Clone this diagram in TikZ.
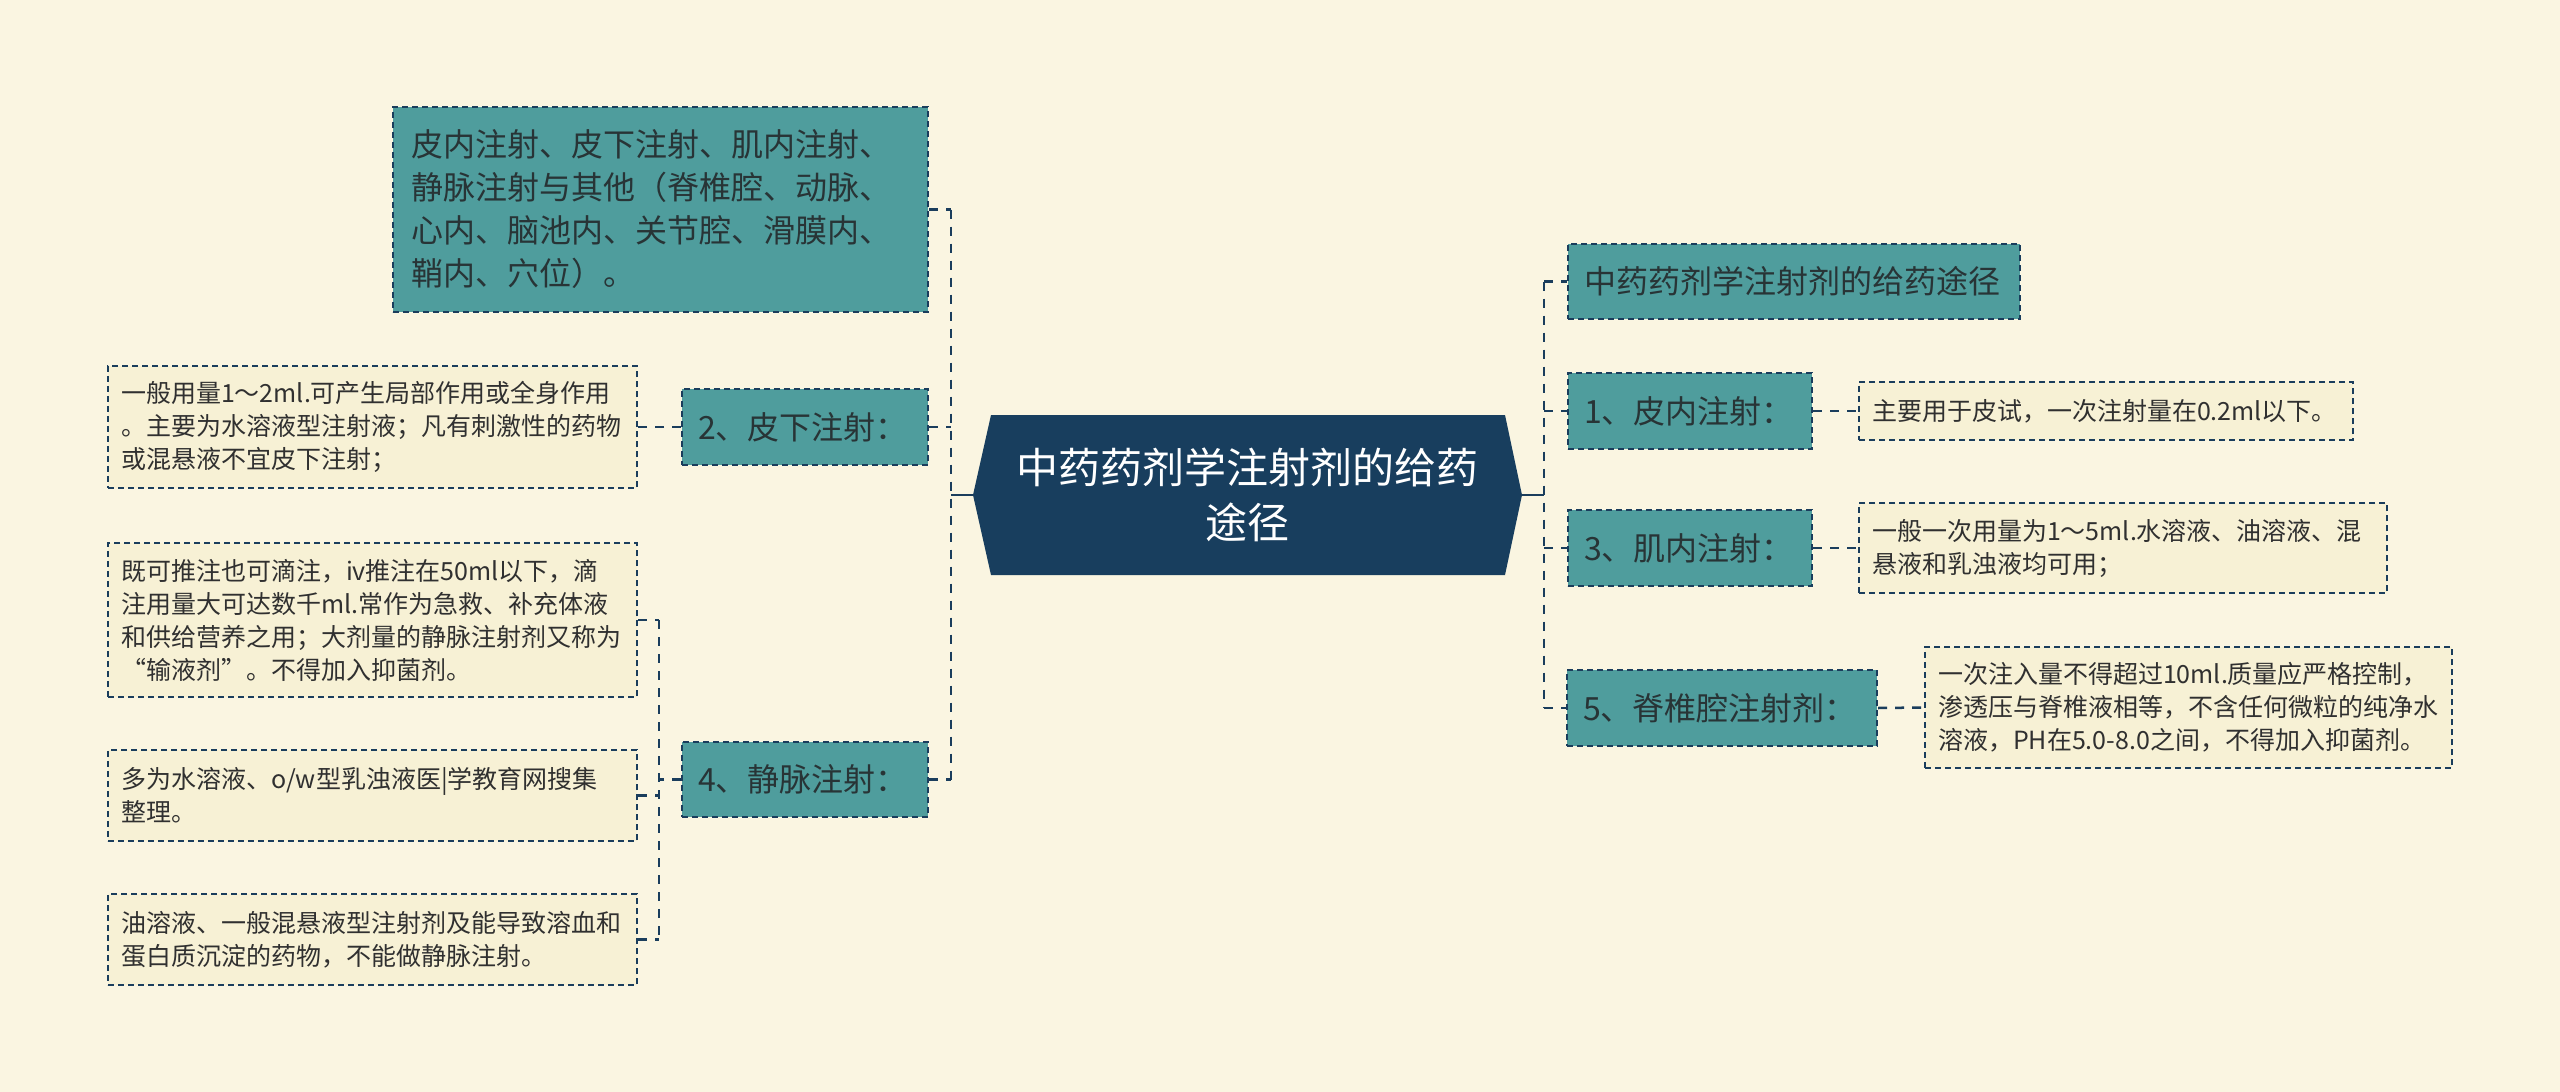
\documentclass[tikz,border=0pt]{standalone}
\usepackage{fontspec}
\setmainfont{Noto Sans CJK SC}
\definecolor{bgc}{RGB}{250,245,225}
\definecolor{navy}{RGB}{26,61,92}
\definecolor{tealc}{RGB}{79,157,157}
\definecolor{leafc}{RGB}{247,241,213}
\definecolor{ctrc}{RGB}{24,62,94}
\definecolor{tealtxt}{RGB}{40,52,54}
\definecolor{leaftxt}{RGB}{48,48,48}
\begin{document}
\begin{tikzpicture}[x=1pt,y=-1pt,
  tbox/.style={draw=navy,fill=tealc,line width=2pt,dash pattern=on 6pt off 4pt,
    text=tealtxt,font=\fontsize{32}{43}\selectfont,align=left,
    inner xsep=16pt,inner ysep=0pt,anchor=center},
  lbox/.style={draw=navy,fill=leafc,line width=2pt,dash pattern=on 6pt off 4pt,
    text=leaftxt,font=\fontsize{25}{33}\selectfont,align=left,
    inner xsep=13pt,inner ysep=0pt,anchor=center},
  conn/.style={draw=navy,line width=2.5pt,dash pattern=on 9pt off 8pt},
  sconn/.style={draw=navy,line width=2.5pt}]
\fill[bgc] (0,0) rectangle (2560,1092);
\useasboundingbox (0,0) rectangle (2560,1092);

% centre hexagon
\coordinate (cl) at (973,495);
\coordinate (cr) at (1522,495);
\fill[ctrc] (cl) -- (991,415) -- (1505,415) -- (cr) -- (1505,575) -- (991,575) -- cycle;
\node[text=white,font=\fontsize{42}{55}\selectfont,align=center] (ctr) at (1247.5,495)
  {中药药剂学注射剂的给药\\途径};

% left branch
\node[tbox,minimum width=535pt,minimum height=205pt,text width=499pt] (A) at (660.5,209.5)
  {皮内注射、皮下注射、肌内注射、\\静脉注射与其他（脊椎腔、动脉、\\心内、脑池内、关节腔、滑膜内、\\鞘内、穴位）。};
\node[tbox,minimum width=246pt,minimum height=76pt,text width=214pt] (N2) at (805,427) {2、皮下注射：};
\node[tbox,minimum width=246pt,minimum height=75pt,text width=214pt] (N4) at (805,779.5) {4、静脉注射：};
\node[lbox,minimum width=529pt,minimum height=122pt,text width=503pt] (L2) at (372.5,427)
  {一般用量1～2ml.可产生局部作用或全身作用\\。主要为水溶液型注射液；凡有刺激性的药物\\或混悬液不宜皮下注射；};
\node[lbox,minimum width=529pt,minimum height=154pt,text width=503pt] (L4a) at (372.5,620)
  {既可推注也可滴注，iv推注在50ml以下，滴\\注用量大可达数千ml.常作为急救、补充体液\\和供给营养之用；大剂量的静脉注射剂又称为\\“输液剂”。不得加入抑菌剂。};
\node[lbox,minimum width=529pt,minimum height=91pt,text width=503pt] (L4b) at (372.5,795.5)
  {多为水溶液、o/w型乳浊液医|学教育网搜集\\整理。};
\node[lbox,minimum width=529pt,minimum height=91pt,text width=503pt] (L4c) at (372.5,939.5)
  {油溶液、一般混悬液型注射剂及能导致溶血和\\蛋白质沉淀的药物，不能做静脉注射。};

% right branch
\node[tbox,minimum width=452pt,minimum height=75pt,text width=420pt] (T) at (1794,281.5) {中药药剂学注射剂的给药途径};
\node[tbox,minimum width=244pt,minimum height=76pt,text width=212pt] (N1) at (1690,411) {1、皮内注射：};
\node[tbox,minimum width=244pt,minimum height=76pt,text width=212pt] (N3) at (1690,548) {3、肌内注射：};
\node[tbox,minimum width=310pt,minimum height=76pt,text width=278pt] (N5) at (1722,708) {5、脊椎腔注射剂：};
\node[lbox,minimum width=494pt,minimum height=58pt,text width=468pt] (L1) at (2106,411)
  {主要用于皮试，一次注射量在0.2ml以下。};
\node[lbox,minimum width=528pt,minimum height=90pt,text width=502pt] (L3) at (2123,548)
  {一般一次用量为1～5ml.水溶液、油溶液、混\\悬液和乳浊液均可用；};
\node[lbox,minimum width=527pt,minimum height=121pt,text width=501pt] (L5) at (2188.5,707.5)
  {一次注入量不得超过10ml.质量应严格控制，\\渗透压与脊椎液相等，不含任何微粒的纯净水\\溶液，PH在5.0-8.0之间，不得加入抑菌剂。};

% trunk coordinates
\coordinate (lt) at (951,495);
\coordinate (rt) at (1544,495);
\coordinate (vt) at (659,779.5);

% left connectors
\draw[sconn] (cl) -- (lt);
\draw[conn] (A.east -| lt) -- (N4.east -| lt);
\draw[conn] (A.east) -- (A.east -| lt);
\draw[conn] (N2.east) -- (N2.east -| lt);
\draw[conn] (N4.east) -- (N4.east -| lt);
\draw[conn] (N2.west) -- (L2.east);
\draw[conn] (N4.west) -- (vt);
\draw[conn] (L4a.east -| vt) -- (L4c.east -| vt);
\draw[conn] (L4a.east) -- (L4a.east -| vt);
\draw[conn] (L4b.east) -- (L4b.east -| vt);
\draw[conn] (L4c.east) -- (L4c.east -| vt);

% right connectors
\draw[sconn] (cr) -- (rt);
\draw[conn] (T.west -| rt) -- (N5.west -| rt);
\draw[conn] (T.west -| rt) -- (T.west);
\draw[conn] (N1.west -| rt) -- (N1.west);
\draw[conn] (N3.west -| rt) -- (N3.west);
\draw[conn] (N5.west -| rt) -- (N5.west);
\draw[conn] (N1.east) -- (L1.west);
\draw[conn] (N3.east) -- (L3.west);
\draw[conn] (N5.east) -- (L5.west);
\end{tikzpicture}
\end{document}
